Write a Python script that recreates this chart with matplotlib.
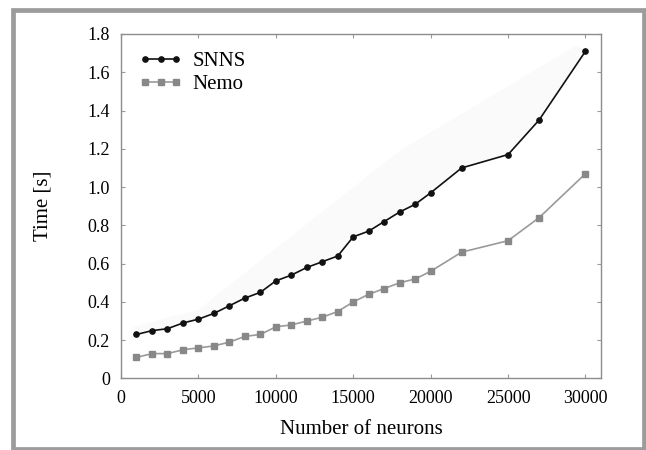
import matplotlib
matplotlib.use("Agg")
import matplotlib.pyplot as plt
from matplotlib.patches import Rectangle
from matplotlib.ticker import FuncFormatter

plt.rcParams['font.family'] = ['Liberation Serif', 'DejaVu Serif']

# number of neurons
neurons = [1000, 2000, 3000, 4000, 5000, 6000, 7000, 8000, 9000, 10000,
           11000, 12000, 13000, 14000, 15000, 16000, 17000, 18000, 19000, 20000,
           22000, 25000, 27000, 30000]
# simulation time [s]
snns = [0.23, 0.25, 0.26, 0.29, 0.31, 0.34, 0.38, 0.42, 0.45, 0.51,
        0.54, 0.58, 0.61, 0.64, 0.74, 0.77, 0.82, 0.87, 0.91, 0.97,
        1.10, 1.17, 1.35, 1.71]
nemo = [0.11, 0.13, 0.13, 0.15, 0.16, 0.17, 0.19, 0.22, 0.23, 0.27,
        0.28, 0.30, 0.32, 0.35, 0.40, 0.44, 0.47, 0.50, 0.52, 0.56,
        0.66, 0.72, 0.84, 1.07]

# faint band above the SNNS curve
band_x = [800, 5000, 18000, 29400, 30300]
band_y = [0.27, 0.36, 1.19, 1.74, 1.70]

fig = plt.figure(figsize=(6.46, 4.5), dpi=100)
ax = fig.add_axes([0.1873, 0.1589, 0.743, 0.7656])

poly_x = band_x + neurons[::-1]
poly_y = band_y + snns[::-1]
ax.fill(poly_x, poly_y, color='#fafafa', lw=0, zorder=0)

ax.plot(neurons, snns, color='#111111', lw=1.2, marker='o', ms=3.8,
        label='SNNS', zorder=3)
ax.plot(neurons, nemo, color='#9a9a9a', lw=1.2, marker='s', ms=3.8,
        mfc='#888888', mec='#888888', label='Nemo', zorder=2)

ax.set_xlim(0, 31000)
ax.set_ylim(0, 1.8)
ax.set_xticks([0, 5000, 10000, 15000, 20000, 25000, 30000])
ax.set_yticks([0, 0.2, 0.4, 0.6, 0.8, 1.0, 1.2, 1.4, 1.6, 1.8])
ax.yaxis.set_major_formatter(FuncFormatter(lambda v, p: '0' if v == 0 else '%.1f' % v))

for s in ax.spines.values():
    s.set_color('#8c8c8c')
    s.set_linewidth(1.0)
ax.tick_params(direction='in', length=3, width=0.8, color='#999999',
               top=True, right=True, labelsize=13, pad=8)

ax.set_xlabel('Number of neurons', fontsize=15, labelpad=10)
ax.set_ylabel('Time [s]', fontsize=15, labelpad=25)

ax.legend(loc='upper left', frameon=False, numpoints=3, fontsize=15,
          handlelength=2.1, handletextpad=0.5, labelspacing=0.15,
          borderaxespad=0.45)

# gray frame round the figure
fig.patches.append(Rectangle((13.5 / 646, 1.5 / 450), 630.5 / 646, 1 - 11 / 450,
                             transform=fig.transFigure, fill=False,
                             edgecolor='#9c9c9c', lw=3.4))

fig.savefig('out.png', dpi=100)
